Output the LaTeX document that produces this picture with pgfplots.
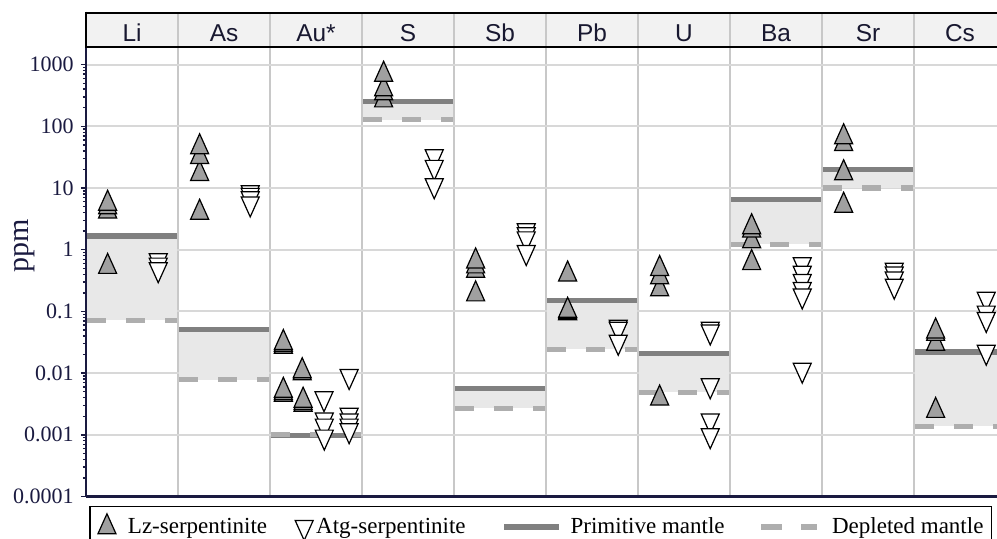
\documentclass[border=0pt]{standalone}
\usepackage{fontspec}
\setmainfont{Liberation Serif}
\newfontfamily\arialfont{Liberation Sans}
\usepackage{pgfplots}
\pgfplotsset{compat=1.18}
\definecolor{navy}{RGB}{26,26,64}
\definecolor{hdrtext}{RGB}{24,24,48}
\definecolor{gridcol}{RGB}{216,216,216}
\definecolor{sepcol}{RGB}{200,200,200}
\definecolor{hdrbg}{RGB}{242,242,242}
\definecolor{pmcol}{RGB}{128,128,128}
\definecolor{dmcol}{RGB}{174,174,174}
\definecolor{bandcol}{RGB}{232,232,232}
\definecolor{lzfill}{RGB}{160,160,160}
\pgfplotsset{
  lz/.style={only marks, mark=triangle*, mark size=5.2pt,
    mark options={fill=lzfill, draw=black, line width=0.6pt, yscale=1.28}},
  atg/.style={only marks, mark=triangle*, mark size=5.2pt,
    mark options={fill=white, draw=black, line width=0.6pt, yscale=-1.28}},
}
\newcommand{\band}[4]{%
  \addplot[forget plot, draw=none, fill=bandcol] coordinates {(#1,#4) (#2,#4) (#2,#3) (#1,#3)} -- cycle;
  \addplot[forget plot, pmcol, line width=2.6pt] coordinates {(#1,#3) (#2,#3)};
  \addplot[forget plot, dmcol, line width=2.6pt, dash pattern=on 9.5pt off 10pt] coordinates {(#1,#4) (#2,#4)};
}
\newcommand{\lines}[4]{%
  \addplot[forget plot, pmcol, line width=2.6pt] coordinates {(#1,#3) (#2,#3)};
  \addplot[forget plot, dmcol, line width=2.6pt, dash pattern=on 9.5pt off 10pt] coordinates {(#1,#4) (#2,#4)};
}
\begin{document}
\begin{tikzpicture}
\begin{axis}[
  at={(43pt,-248.25pt)}, anchor=south west,
  scale only axis, width=455.5pt, height=224.75pt,
  xmin=0, xmax=9.902,
  ymode=log, ymin=1e-4, ymax=1930,
  axis x line*=bottom, axis y line*=left,
  axis line style={navy, line width=1.1pt, -},
  xtick={1,2,3,4,5,6,7,8,9}, xticklabels={},
  xtick style={draw=none},
  ytick={1e-4,1e-3,1e-2,1e-1,1,10,100,1000},
  yticklabels={0.0001,0.001,0.01,0.1,1,10,100,1000},
  minor ytick={2e-4,3e-4,4e-4,5e-4,6e-4,7e-4,8e-4,9e-4,
               2e-3,3e-3,4e-3,5e-3,6e-3,7e-3,8e-3,9e-3,
               2e-2,3e-2,4e-2,5e-2,6e-2,7e-2,8e-2,9e-2,
               0.2,0.3,0.4,0.5,0.6,0.7,0.8,0.9,
               2,3,4,5,6,7,8,9,20,30,40,50,60,70,80,90,
               200,300,400,500,600,700,800,900},
  tick align=outside,
  ytick style={navy, line width=0.7pt},
  major tick length=2.6pt, minor tick length=1.6pt,
  yticklabel style={font=\fontsize{11}{12}\selectfont, text=navy},
  /pgf/number format/assume math mode=true,
  xmajorgrids, ymajorgrids,
  x grid style={sepcol, line width=1.3pt},
  y grid style={gridcol, line width=1pt},
  ylabel={ppm},
  ylabel style={at={(axis description cs:-0.067,0.557)}, anchor=center,
    font=\fontsize{15}{16}\selectfont, text=navy},
  legend columns=4,
  legend style={at={(axis description cs:0.0033,-0.021)}, anchor=north west,
    draw=black, line width=0.75pt, font=\fontsize{11.5}{13}\selectfont,
    inner xsep=4.1pt, inner ysep=3.5pt,
    nodes={inner sep=0pt},
    /tikz/column 1/.style={column sep=6pt},
    /tikz/column 2/.style={column sep=14pt},
    /tikz/column 3/.style={column sep=1.5pt},
    /tikz/column 4/.style={column sep=19.25pt},
    /tikz/column 5/.style={column sep=6pt},
    /tikz/column 6/.style={column sep=18pt},
    /tikz/column 7/.style={column sep=7.5pt}},
]
% mantle reference bands (primitive / depleted)
\band{0.013}{0.987}{1.67}{0.0715}
\band{1.013}{1.987}{0.0511}{0.0078}
\lines{2.013}{2.987}{0.00097}{0.001}
\band{3.013}{3.987}{253}{128}
\band{4.013}{4.987}{0.0056}{0.0027}
\band{5.013}{5.987}{0.151}{0.0242}
\band{6.013}{6.987}{0.0211}{0.0049}
\band{7.013}{7.987}{6.5}{1.22}
\band{8.013}{8.987}{19.8}{10.0}
\band{9.013}{9.987}{0.022}{0.00137}
% Lz-serpentinite
\addplot[lz, forget plot] coordinates {
  (0.235,0.53) (0.235,4.2) (0.235,4.9) (0.235,5.6)
  (1.235,4.0) (1.235,17) (1.235,32) (1.235,46)
  (2.145,0.0045) (2.145,0.0048) (2.145,0.0052)
  (2.145,0.027) (2.145,0.029) (2.145,0.031)
  (2.36,0.0031) (2.36,0.0033) (2.36,0.0036)
  (2.35,0.0100) (2.35,0.0108)
  (3.235,265) (3.235,345) (3.235,400) (3.235,690)
  (4.235,0.19) (4.235,0.46) (4.235,0.54) (4.235,0.65)
  (5.235,0.094) (5.235,0.098) (5.235,0.103) (5.235,0.40)
  (6.235,0.0039) (6.235,0.23) (6.235,0.36) (6.235,0.49)
  (7.235,0.61) (7.235,1.38) (7.235,2.06) (7.235,2.33)
  (8.235,5.2) (8.235,17.5) (8.235,52) (8.235,67)
  (9.235,0.00246) (9.235,0.030) (9.235,0.0435) (9.235,0.0476)
};
% Atg-serpentinite
\addplot[atg, forget plot] coordinates {
  (0.785,0.67) (0.785,0.57) (0.785,0.48)
  (1.785,8.5) (1.785,7.7) (1.785,6.8) (1.785,5.6)
  (2.587,0.0039) (2.59,0.00176) (2.59,0.0014) (2.59,0.00093)
  (2.86,0.0089) (2.86,0.0021) (2.86,0.0017) (2.86,0.0014) (2.86,0.00118)
  (3.785,32.5) (3.785,21.9) (3.785,11.0)
  (4.785,2.05) (4.785,1.77) (4.785,1.52) (4.785,0.91)
  (5.785,0.056) (5.785,0.052) (5.785,0.032)
  (6.785,0.052) (6.785,0.047) (6.785,0.0063) (6.785,0.0017) (6.785,0.00098)
  (7.785,0.58) (7.785,0.42) (7.785,0.31) (7.785,0.23) (7.785,0.18) (7.785,0.0113)
  (8.785,0.47) (8.785,0.41) (8.785,0.34) (8.785,0.26)
  (9.785,0.16) (9.785,0.095) (9.785,0.075) (9.785,0.0221)
};
\addlegendimage{legend image code/.code={\path[draw=none,fill=none] (0pt,-6.7pt) rectangle (9pt,6.7pt);
  \draw[mark=triangle*, mark size=5.2pt,
    mark options={fill=lzfill, draw=black, line width=0.6pt, yscale=1.28}] plot coordinates {(4.5pt,0pt)};}}
\addlegendentry{Lz-serpentinite}
\addlegendimage{legend image code/.code={\path[draw=none,fill=none] (0pt,-6.7pt) rectangle (9pt,6.7pt);
  \draw[mark=triangle*, mark size=5.2pt,
    mark options={fill=white, draw=black, line width=0.6pt, yscale=-1.28}] plot coordinates {(4.5pt,0pt)};}}
\addlegendentry{Atg-serpentinite}
\addlegendimage{legend image code/.code={\path[draw=none,fill=none] (0pt,-6.7pt) rectangle (26.5pt,6.7pt);
  \fill[pmcol] (0pt,-1.3pt) rectangle (26.5pt,1.3pt);}}
\addlegendentry{Primitive mantle}
\addlegendimage{legend image code/.code={\path[draw=none,fill=none] (0pt,-6.7pt) rectangle (27.5pt,6.7pt);
  \fill[dmcol] (0pt,-1.3pt) rectangle (10pt,1.3pt);
  \fill[dmcol] (20pt,-1.3pt) rectangle (27.5pt,1.3pt);}}
\addlegendentry{Depleted mantle\hspace{20pt}}
\end{axis}
% header strip
\fill[hdrbg] (43pt,-23.5pt) rectangle (500pt,-6.5pt);
\foreach \i in {1,...,9} \draw[sepcol, line width=1.3pt] (43pt+\i*46pt,-23.5pt) -- ++(0,17pt);
\draw[black, line width=1.3pt] (43pt,-6.5pt) -- (500pt,-6.5pt);
\draw[black, line width=1.3pt] (43pt,-23.5pt) -- (500pt,-23.5pt);
\draw[black, line width=1.3pt] (43pt,-5.85pt) -- (43pt,-24.1pt);
\foreach \n [count=\i from 0] in {Li,As,Au*,S,Sb,Pb,U,Ba,Sr,Cs}
  \node[anchor=base, text=hdrtext, font=\arialfont\fontsize{12.2}{14}\selectfont, inner sep=0pt]
    at (43pt+\i*46pt+23pt,-20.8pt) {\n};
\pgfresetboundingbox
\useasboundingbox (0pt,0pt) rectangle (498.5pt,-269pt);
\end{tikzpicture}
\end{document}
